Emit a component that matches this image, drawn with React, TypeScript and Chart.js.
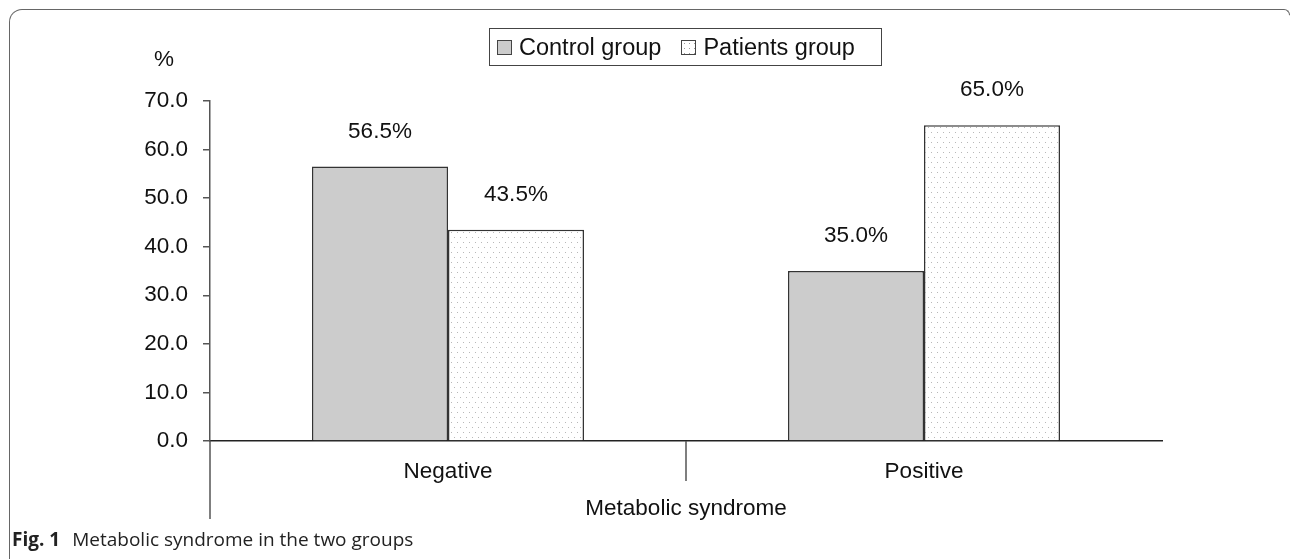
import React, { useEffect, useRef } from "react";
import { Chart, registerables } from "chart.js";

Chart.register(...registerables);

const categories = ["Negative", "Positive"];
const controlValues = [56.5, 35.0];
const patientValues = [43.5, 65.0];
const seriesNames = ["Control group", "Patients group"];
const yTicks = [0, 10, 20, 30, 40, 50, 60, 70];
const xTitle = "Metabolic syndrome";
const yUnit = "%";
const caption = "Metabolic syndrome in the two groups";

const FONT = "'Liberation Sans', Arial, sans-serif";
const FS = 22.5;

function makeDotPattern(): CanvasPattern | string {
  const c = document.createElement("canvas");
  c.width = 6;
  c.height = 10;
  const g = c.getContext("2d");
  if (!g) return "#ffffff";
  g.fillStyle = "#ffffff";
  g.fillRect(0, 0, 6, 10);
  g.fillStyle = "#b8b8b8";
  g.fillRect(1, 2, 1, 1);
  g.fillRect(4, 7, 1, 1);
  const p = g.createPattern(c, "repeat");
  return p || "#ffffff";
}

const decorPlugin = {
  id: "decor",
  afterDraw(chart: any) {
    const { ctx, chartArea, scales } = chart;
    const x = scales.x;
    ctx.save();
    ctx.strokeStyle = "#555";
    ctx.lineWidth = 1.5;
    // y axis extension below the category axis
    ctx.beginPath();
    ctx.moveTo(chartArea.left, chartArea.bottom);
    ctx.lineTo(chartArea.left, chartArea.bottom + 78);
    ctx.stroke();
    // separators between categories
    for (let i = 0; i < categories.length - 1; i++) {
      const sx = (x.getPixelForValue(i) + x.getPixelForValue(i + 1)) / 2;
      ctx.beginPath();
      ctx.moveTo(sx, chartArea.bottom);
      ctx.lineTo(sx, chartArea.bottom + 40);
      ctx.stroke();
    }
    // value labels
    ctx.fillStyle = "#111";
    ctx.font = `${FS}px ${FONT}`;
    ctx.textAlign = "center";
    ctx.textBaseline = "middle";
    chart.data.datasets.forEach((ds: any, di: number) => {
      const meta = chart.getDatasetMeta(di);
      meta.data.forEach((el: any, i: number) => {
        const v = ds.data[i] as number;
        ctx.fillText(v.toFixed(1) + "%", el.x, el.y - 35);
      });
    });
    ctx.restore();
  },
};

function App() {
  const canvasRef = useRef<HTMLCanvasElement | null>(null);

  useEffect(() => {
    const canvas = canvasRef.current;
    if (!canvas) return;
    const pattern = makeDotPattern();
    const chart = new Chart(canvas, {
      type: "bar",
      data: {
        labels: categories,
        datasets: [
          {
            label: seriesNames[0],
            data: controlValues,
            backgroundColor: "#cccccc",
            borderColor: "#333333",
            borderWidth: 1.5,
            categoryPercentage: 0.5714,
            barPercentage: 1.0,
          },
          {
            label: seriesNames[1],
            data: patientValues,
            backgroundColor: pattern as any,
            borderColor: "#333333",
            borderWidth: 1.5,
            categoryPercentage: 0.5714,
            barPercentage: 1.0,
          },
        ],
      },
      options: {
        responsive: false,
        animation: false,
        events: [],
        layout: { padding: { left: 0, top: 101, right: 130, bottom: 0 } },
        plugins: {
          legend: { display: false },
          tooltip: { enabled: false },
          title: { display: false },
        },
        scales: {
          x: {
            type: "category",
            grid: { display: false, drawTicks: false },
            border: { display: true, color: "#222", width: 1.5 },
            ticks: {
              color: "#111",
              font: { family: FONT, size: FS },
              padding: 17,
              maxRotation: 0,
            },
            title: {
              display: true,
              text: xTitle,
              color: "#111",
              font: { family: FONT, size: FS },
              padding: { top: 0, bottom: 37 },
            },
            afterFit(scale: any) {
              scale.height = 118;
            },
          },
          y: {
            min: yTicks[0],
            max: yTicks[yTicks.length - 1],
            grid: {
              drawOnChartArea: false,
              drawTicks: true,
              tickLength: 7,
              color: "#555",
              lineWidth: 1.5,
            },
            border: { display: true, color: "#555", width: 1.5 },
            afterBuildTicks(scale: any) {
              scale.ticks = yTicks.map((v) => ({ value: v }));
            },
            ticks: {
              color: "#111",
              font: { family: FONT, size: FS },
              padding: 15,
              callback: (v: any) => Number(v).toFixed(1),
            },
            afterFit(scale: any) {
              scale.width = 210;
            },
          },
        },
      },
      plugins: [decorPlugin],
    });
    return () => chart.destroy();
  }, []);

  const swatch = (bg: string, dotted: boolean): React.CSSProperties => ({
    display: "inline-block",
    width: 13,
    height: 13,
    border: "1.5px solid #444",
    background: dotted
      ? "radial-gradient(circle, #999 0.6px, transparent 0.9px) 0 0/5px 5px, #fff"
      : bg,
    marginRight: 7,
    boxSizing: "content-box",
  });

  return (
    <div
      style={{
        position: "fixed",
        left: 0,
        top: 0,
        width: 1292,
        height: 559,
        background: "#fff",
        overflow: "hidden",
      }}
    >
      <div
        style={{
          position: "absolute",
          left: 9,
          top: 9,
          width: 1281,
          height: 560,
          borderTop: "1.5px solid #666",
          borderLeft: "1.5px solid #666",
          borderRight: "1.5px solid #666",
          borderTopLeftRadius: 13,
          borderTopRightRadius: 6,
          borderBottomLeftRadius: 10,
          boxSizing: "border-box",
          clipPath: "polygon(0 0, 1281px 0, 1281px 6px, 0 100%)",
        }}
      />
      <canvas
        ref={canvasRef}
        width={1292}
        height={559}
        style={{ position: "absolute", left: 0, top: 0, width: 1292, height: 559 }}
      />
      <div
        style={{
          position: "absolute",
          left: 154,
          top: 46,
          font: `${FS}px ${FONT}`,
          color: "#111",
        }}
      >
        {yUnit}
      </div>
      <div
        style={{
          position: "absolute",
          left: 489,
          top: 28,
          width: 393,
          height: 38,
          border: "1.5px solid #444",
          boxSizing: "border-box",
          display: "flex",
          alignItems: "center",
          paddingLeft: 7,
          font: `23.5px ${FONT}`,
          color: "#111",
          whiteSpace: "nowrap",
        }}
      >
        <span style={swatch("#cccccc", false)} />
        <span>{seriesNames[0]}</span>
        <span style={{ display: "inline-block", width: 20 }} />
        <span style={swatch("#fff", true)} />
        <span>{seriesNames[1]}</span>
      </div>
      <div
        style={{
          position: "absolute",
          left: 12,
          top: 526,
          font: "19px 'Open Sans', sans-serif",
          color: "#222",
          whiteSpace: "nowrap",
        }}
      >
        <b>Fig. 1</b>
        <span style={{ display: "inline-block", width: 12 }} />
        {caption}
      </div>
    </div>
  );
}

export default App;
